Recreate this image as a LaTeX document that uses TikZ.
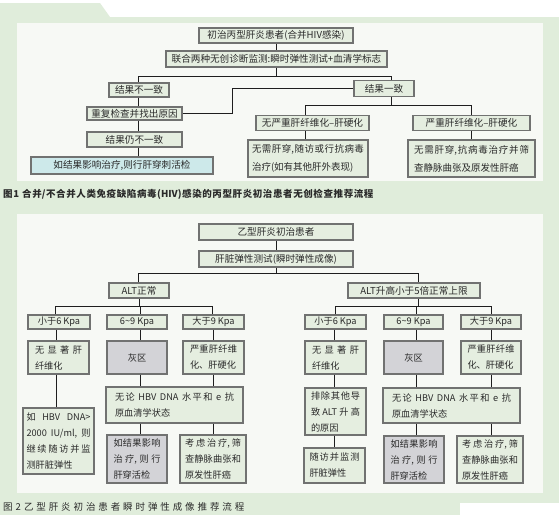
\documentclass[tikz,border=0pt]{standalone}
\usepackage{fontspec}
\setmainfont{Noto Sans CJK SC}
\XeTeXlinebreaklocale "zh"
\XeTeXlinebreakskip=0pt plus 1pt
\tolerance=10000
\hbadness=10000
\definecolor{bggreen}{HTML}{E0EDDB}
\definecolor{panel}{HTML}{F7F9F5}
\definecolor{boxfill}{HTML}{E5EEE0}
\definecolor{bordergray}{HTML}{717271}
\definecolor{grayfill}{HTML}{D3D3D7}
\definecolor{cyanfill}{HTML}{CDE9EA}
\definecolor{linec}{HTML}{1E1E1E}
\definecolor{textc}{HTML}{2A2A2A}
\newcommand\vl[3]{\draw[ln] (#1.south -| #3) -- (#2.north -| #3);}
\newcommand\capgap[1]{\XeTeXlinebreakskip=#1\relax}
\tikzset{
  bx/.style={draw=bordergray, line width=1.1pt, fill=boxfill, inner sep=0pt,
    font=\fontsize{9.6}{16}\selectfont, text=textc},
  bxs/.style={bx, font=\fontsize{9.2}{16}\selectfont},
  gbx/.style={bxs, fill=grayfill},
  cbx/.style={bx, fill=cyanfill},
  jus/.style={align=justify},
  ln/.style={draw=linec, line width=0.9pt},
  captxt/.style={anchor=west, inner sep=0pt, text=textc, align=left},
}
\begin{document}
\begin{tikzpicture}[x=1pt,y=-1pt]
\useasboundingbox (0,0) rectangle (559,515);
% background
\fill[white] (0,0) rectangle (559,515);
\fill[bggreen] (0,17) rectangle (559,515);
\fill[bggreen] (0,3) -- (100,3) -- (110,17) -- (0,17) -- cycle;
\fill[panel] (17,23) rectangle (543,181);
\fill[panel] (17,214) rectangle (543,493);
\fill[white] (460,503) rectangle (559,515);

% x / y helper coordinates
\foreach \xv in {55,56,138,139,140,212,213,232,276,305,334,335,391,416,418,471,491}
  {\coordinate (x\xv) at (\xv,0);}
\foreach \yv in {76,105,273,306}
  {\coordinate (y\yv) at (0,\yv);}

% ---------- Figure 1 ----------
\node[bx, minimum width=154pt, minimum height=15pt] (A) at (276,35.5) {初治丙型肝炎患者(合并HIV感染)};
\node[bx, minimum width=221pt, minimum height=16pt] (B) at (276.5,59) {联合两种无创诊断监测:瞬时弹性测试+血清学标志};
\node[bx, minimum width=60pt, minimum height=14pt] (C) at (139,90) {结果不一致};
\node[bx, minimum width=60pt, minimum height=16pt] (D) at (384,88.5) {结果一致};
\node[bx, minimum width=95pt, minimum height=13pt] (E) at (134.5,113.5) {重复检查并找出原因};
\node[bx, minimum width=95pt, minimum height=15pt] (F) at (134.5,139.5) {结果仍不一致};
\node[cbx, minimum width=182pt, minimum height=17pt] (G) at (122,165.5) {如结果影响治疗,则行肝穿刺活检};
\node[bx, minimum width=113pt, minimum height=15pt] (H) at (312.5,123) {无严重肝纤维化–肝硬化};
\node[bx, minimum width=117pt, minimum height=15pt] (I) at (471.5,123) {严重肝纤维化–肝硬化};
\node[bx, jus, minimum width=120pt, minimum height=37pt, text width=112pt,
  font=\fontsize{9.5}{18}\selectfont] (J) at (308,158.5) {无需肝穿,随访或行抗病毒\linebreak 治疗(如有其他肝外表现)};
\node[bx, jus, minimum width=127pt, minimum height=37pt, text width=115pt,
  font=\fontsize{9.5}{18}\selectfont] (K) at (471.5,158.5) {无需肝穿,抗病毒治疗并筛\linebreak 查静脉曲张及原发性肝癌};

\vl{A}{B}{x276}
\draw[ln] (B.south -| x276) -- (y76 -| x276);
\draw[ln] (C.north -| x138) -- (y76 -| x138) -- (y76 -| x391) -- (D.north -| x391);
\draw[ln] (D.west) -- (D.west -| x232) -- (E.east -| x232) -- (E.east);
\vl{C}{E}{x138}
\vl{E}{F}{x138}
\vl{F}{G}{x138}
\draw[ln] (D.south -| x391) -- (y105 -| x391);
\draw[ln] (H.north -| x305) -- (y105 -| x305) -- (y105 -| x471) -- (I.north -| x471);
\vl{H}{J}{x305}
\vl{I}{K}{x471}

\node[captxt, text width=400pt, font=\bfseries\fontsize{9.5}{11}\selectfont] (cap1) at (3,194) {\capgap{0.6pt}图1 合并/不合并人类免疫缺陷病毒(HIV)感染的丙型肝炎初治患者无创检查推荐流程};

% ---------- Figure 2 ----------
\node[bx, minimum width=154pt, minimum height=16pt] (P) at (276,232) {乙型肝炎初治患者};
\node[bx, minimum width=154pt, minimum height=16pt] (Q) at (276,259) {肝脏弹性测试(瞬时弹性成像)};
\node[bx, minimum width=60pt, minimum height=15pt] (R) at (139,290.5) {ALT正常};
\node[bx, minimum width=132pt, minimum height=15pt] (S) at (414,290.5) {ALT升高小于5倍正常上限};

% left branch
\node[bxs, minimum width=62pt, minimum height=14pt] (L1a) at (59,322) {小于6 Kpa};
\node[bxs, minimum width=60pt, minimum height=14pt] (L1b) at (137,322) {6\textasciitilde9 Kpa};
\node[bxs, minimum width=61pt, minimum height=14pt] (L1c) at (213.5,322) {大于9 Kpa};
\node[bxs, jus, minimum width=61pt, minimum height=33pt, text width=47pt] (L2a) at (58.5,357.5) {无显著肝\linebreak 纤维化};
\node[gbx, minimum width=60pt, minimum height=33pt] (L2b) at (137,357.5) {灰区};
\node[bxs, jus, minimum width=61pt, minimum height=33pt, text width=47pt] (L2c) at (213.5,357.5) {严重肝纤维\linebreak 化、肝硬化};
\node[bxs, jus, minimum width=137pt, minimum height=36pt, text width=119pt] (L3b) at (174.5,405) {无论 HBV DNA 水平和 e 抗\linebreak 原血清学状态};
\node[bxs, jus, minimum width=71pt, minimum height=66pt, text width=64pt] (L3a) at (58.5,441) {如 HBV DNA>\linebreak 2000 \mbox{IU/ml,} 则\linebreak 继续随访并监\linebreak 测肝脏弹性};
\node[gbx, jus, minimum width=60pt, minimum height=48pt, text width=47pt] (L4b) at (137,459) {如结果影响\linebreak 治疗,则行\linebreak 肝穿活检};
\node[bxs, jus, minimum width=66pt, minimum height=48pt, text width=56pt] (L4c) at (213,459) {考虑治疗,筛\linebreak 查静脉曲张和\linebreak 原发性肝癌};

% right branch
\node[bxs, minimum width=61pt, minimum height=14pt] (R1a) at (335.5,322) {小于6 Kpa};
\node[bxs, minimum width=59pt, minimum height=14pt] (R1b) at (413.5,322) {6\textasciitilde9 Kpa};
\node[bxs, minimum width=60pt, minimum height=14pt] (R1c) at (491,322) {大于9 Kpa};
\node[bxs, jus, minimum width=61pt, minimum height=33pt, text width=47pt] (R2a) at (335.5,357.5) {无显著肝\linebreak 纤维化};
\node[gbx, minimum width=59pt, minimum height=33pt] (R2b) at (413.5,357.5) {灰区};
\node[bxs, jus, minimum width=60pt, minimum height=33pt, text width=47pt] (R2c) at (491,357.5) {严重肝纤维\linebreak 化、肝硬化};
\node[bxs, jus, minimum width=61pt, minimum height=47pt, text width=49pt] (R3a) at (335.5,411.5) {排除其他导\linebreak 致ALT升高\linebreak 的原因};
\node[bxs, jus, minimum width=137pt, minimum height=35pt, text width=119pt] (R3b) at (451.5,405.5) {无论 HBV DNA 水平和 e 抗\linebreak 原血清学状态};
\node[bxs, jus, minimum width=61pt, minimum height=35pt, text width=50pt] (R4a) at (334.5,465.5) {随访并监测\linebreak 肝脏弹性};
\node[gbx, jus, minimum width=60pt, minimum height=47pt, text width=47pt] (R4b) at (414,459.5) {如结果影响\linebreak 治疗,则行\linebreak 肝穿活检};
\node[bxs, jus, minimum width=66pt, minimum height=47pt, text width=56pt] (R4c) at (490,459.5) {考虑治疗,筛\linebreak 查静脉曲张和\linebreak 原发性肝癌};

\vl{P}{Q}{x276}
\draw[ln] (Q.south -| x276) -- (y273 -| x276);
\draw[ln] (R.north -| x138) -- (y273 -| x138) -- (y273 -| x418) -- (S.north -| x418);
\draw[ln] (R.south -| x139) -- (y306 -| x139);
\draw[ln] (L1a.north -| x55) -- (y306 -| x55) -- (y306 -| x212) -- (L1c.north -| x212);
\draw[ln] (y306 -| x140) -- (L1b.north -| x140);
\draw[ln] (S.south -| x418) -- (y306 -| x418);
\draw[ln] (R1a.north -| x335) -- (y306 -| x335) -- (y306 -| x491) -- (R1c.north -| x491);
\draw[ln] (y306 -| x416) -- (R1b.north -| x416);
\vl{L1a}{L2a}{x56}
\vl{L1b}{L2b}{x140}
\vl{L1c}{L2c}{x213}
\vl{L2a}{L3a}{x56}
\vl{L2b}{L3b}{x140}
\vl{L2c}{L3b}{x213}
\vl{L3b}{L4b}{x140}
\vl{L3b}{L4c}{x213}
\vl{R1a}{R2a}{x334}
\vl{R1b}{R2b}{x416}
\vl{R1c}{R2c}{x491}
\vl{R2a}{R3a}{x334}
\vl{R2b}{R3b}{x416}
\vl{R2c}{R3b}{x491}
\vl{R3a}{R4a}{x334}
\vl{R3b}{R4b}{x416}
\vl{R3b}{R4c}{x491}

\node[captxt, text width=300pt, font=\fontsize{9.5}{11}\selectfont] (cap2) at (3,507) {\capgap{2.9pt}图2 乙型肝炎初治患者瞬时弹性成像推荐流程};
\end{tikzpicture}
\end{document}
